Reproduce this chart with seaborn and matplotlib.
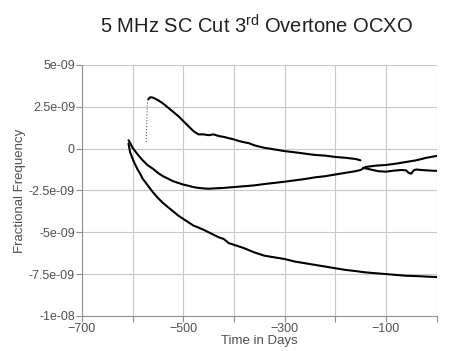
import matplotlib
matplotlib.use("Agg")
import matplotlib.pyplot as plt
import seaborn as sns
import pandas as pd
import numpy as np

# readings, values in units of 1e-9
days_rise = [-573, -572, -571, -569]
freq_rise = [0.4, 1.5, 2.6, 2.95]
days_a = [-569, -565, -560, -550, -540, -530, -520, -510, -500, -490, -480,
          -470, -460, -450, -440, -430, -420, -410, -400, -390, -380, -370, -360, -350, -340,
          -320, -300, -280, -260, -240, -220, -200, -180, -160, -150]
freq_a = [2.95, 3.07, 3.05, 2.9, 2.7, 2.45, 2.2, 1.95, 1.65, 1.35, 1.05,
          0.85, 0.85, 0.8, 0.85, 0.75, 0.7, 0.62, 0.55, 0.45, 0.38, 0.32, 0.2, 0.12, 0.05,
          -0.05, -0.15, -0.22, -0.3, -0.38, -0.42, -0.5, -0.55, -0.62, -0.7]
days_a2 = [-145, -130, -115, -100, -85, -70, -60, -55, -50, -45, -40, -30, -20, -10, 0]
freq_a2 = [-1.15, -1.25, -1.35, -1.38, -1.32, -1.28, -1.3, -1.45, -1.5, -1.3, -1.25, -1.28,
           -1.3, -1.32, -1.33]
days_b = [-608, -605, -600, -590, -580, -570, -560, -550, -540, -530, -520, -510, -500, -490,
          -480, -470, -460, -450, -440, -420, -400, -380, -360, -340, -320, -300, -280, -260,
          -240, -220, -200, -180, -160, -150, -140, -120, -100, -80, -60, -40, -20, 0]
freq_b = [0.5, 0.35, 0.05, -0.35, -0.7, -1.0, -1.2, -1.45, -1.65, -1.8, -1.95, -2.05, -2.15,
          -2.22, -2.3, -2.35, -2.38, -2.4, -2.38, -2.35, -2.3, -2.25, -2.2, -2.12, -2.05, -1.98,
          -1.9, -1.82, -1.72, -1.65, -1.55, -1.45, -1.35, -1.28, -1.1, -1.02, -0.98, -0.9,
          -0.8, -0.7, -0.55, -0.44]
days_c = [-608, -605, -600, -595, -590, -585, -580, -575, -570, -560, -550, -540, -530, -520,
          -510, -500, -490, -480, -470, -460, -450, -440, -430, -420, -410, -400, -380, -360,
          -340, -320, -300, -280, -260, -240, -220, -200, -180, -160, -140, -120, -100, -80,
          -60, -40, -20, 0]
freq_c = [0.3, -0.2, -0.6, -0.95, -1.25, -1.5, -1.8, -2.0, -2.2, -2.6, -2.95, -3.25, -3.5,
          -3.75, -4.0, -4.2, -4.4, -4.6, -4.72, -4.85, -5.0, -5.15, -5.3, -5.4, -5.65, -5.75,
          -5.95, -6.2, -6.4, -6.5, -6.6, -6.75, -6.85, -6.95, -7.05, -7.15, -7.25, -7.32,
          -7.4, -7.45, -7.5, -7.55, -7.6, -7.62, -7.65, -7.68]

y_ticks = [5e-09, 2.5e-09, 0, -2.5e-09, -5e-09, -7.5e-09, -1e-08]
y_tick_labels = ["5e-09", "2.5e-09", "0", "-2.5e-09", "-5e-09", "-7.5e-09", "-1e-08"]
x_major = [-700, -500, -300, -100]
x_minor = [-600, -400, -200, 0]

segs = [("a", days_a, freq_a), ("a2", days_a2, freq_a2),
        ("b", days_b, freq_b), ("c", days_c, freq_c)]
df = pd.concat([
    pd.DataFrame({"day": d, "freq": np.array(f) * 1e-9, "seg": s}) for s, d, f in segs
])
rise = pd.DataFrame({"day": days_rise, "freq": np.array(freq_rise) * 1e-9})

sns.set_theme(style="white")
plt.rcParams["font.family"] = ["Liberation Sans", "DejaVu Sans"]
plt.rcParams["mathtext.fontset"] = "custom"
plt.rcParams["mathtext.rm"] = "Liberation Sans"

fig = plt.figure(figsize=(4.5, 3.51), dpi=100)
ax = fig.add_axes([0.182, 0.1, 0.788, 0.715])
sns.lineplot(data=df, x="day", y="freq", units="seg", estimator=None, sort=False,
             color="black", linewidth=1.5, ax=ax)
sns.lineplot(data=rise, x="day", y="freq", estimator=None, sort=False,
             color="#606060", linewidth=0.8, linestyle=":", ax=ax)

ax.set_xlim(-700, 0)
ax.set_ylim(-1e-08, 5e-09)
ax.set_yticks(y_ticks)
ax.set_yticklabels(y_tick_labels)
ax.set_xticks(x_major)
ax.set_xticks(x_minor, minor=True)
ax.grid(True, which="both", color="#c8c8c8", linewidth=0.8)
for s in ["top", "right"]:
    ax.spines[s].set_visible(False)
for s in ["left", "bottom"]:
    ax.spines[s].set_color("#909090")
    ax.spines[s].set_linewidth(0.8)
ax.tick_params(which="both", direction="out", length=4, width=0.8, color="#909090",
               labelsize=9, labelcolor="#505050", pad=1, left=True, bottom=True)
ax.set_xlabel("Time in Days", fontsize=9.5, color="#505050", labelpad=0)
ax.set_ylabel("Fractional Frequency", fontsize=9.5, color="#505050", labelpad=2)
fig.text(0.571, 0.925, r"5 MHz SC Cut 3$^{\rm rd}$ Overtone OCXO", ha="center",
         va="center", fontsize=14.5, color="#202020")

fig.savefig("out.png", dpi=100)
